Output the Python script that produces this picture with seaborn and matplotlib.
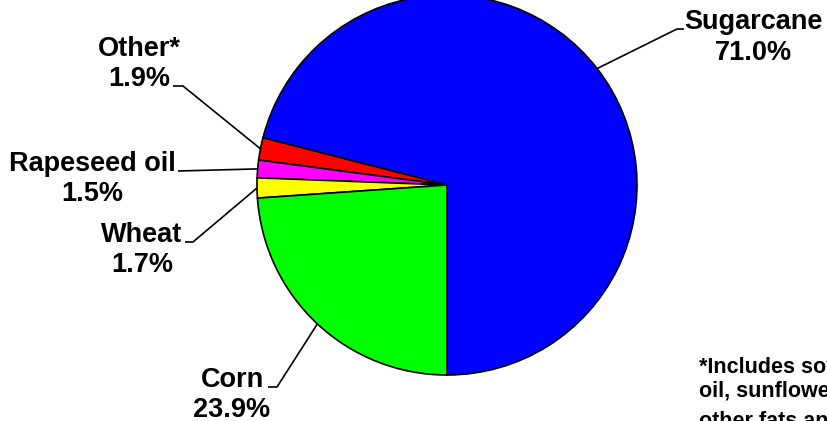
import numpy as np
import matplotlib
matplotlib.use("Agg")
import matplotlib.pyplot as plt
import seaborn as sns

# ---- data ----
categories = ["Sugarcane", "Other*", "Rapeseed oil", "Wheat", "Corn"]
shares = [71.0, 1.9, 1.5, 1.7, 23.9]
colors = ["#0000FF", "#FF0000", "#FF00FF", "#FFFF00", "#00FF00"]
footnote_lines = ["*Includes soybean", "oil, sunflower oil,", "other fats and oils"]

sns.set_theme(style="white")
plt.rcParams["font.family"] = ["Liberation Sans", "DejaVu Sans"]

W, H = 827, 421
fig = plt.figure(figsize=(W / 100, H / 100), dpi=100)
ax = fig.add_axes([0, 0, 1, 1])


def py(y):
    return H - y


cx, cy, R = 447, 185, 190
wedges, _ = ax.pie(
    shares, colors=colors, startangle=270, counterclock=True,
    radius=R, center=(cx, py(cy)),
    wedgeprops=dict(edgecolor="black", linewidth=1.2),
)
ax.set_xlim(0, W)
ax.set_ylim(0, H)
ax.set_aspect("auto")
ax.axis("off")

# label layout: (name baseline, pct baseline, text center x, elbow, line end)
layout = {
    "Sugarcane": dict(x=753, yn=29, yp=60, elbow=(677, 29), end=(684, 29)),
    "Other*": dict(x=139, yn=56, yp=86, elbow=(183, 86), end=(173, 86)),
    "Rapeseed oil": dict(x=92, yn=171, yp=201, elbow=None, end=(178, 171)),
    "Wheat": dict(x=142, yn=242, yp=272, elbow=(193, 242), end=(185, 242)),
    "Corn": dict(x=232, yn=387, yp=417, elbow=(277, 387), end=(268, 387)),
}

fs = 19.5
for w, name, val in zip(wedges, categories, shares):
    L = layout[name]
    mid = np.deg2rad((w.theta1 + w.theta2) / 2)
    ax_x = cx + R * np.cos(mid)
    ax_y = py(cy) + R * np.sin(mid)
    xs = [ax_x]
    ys = [ax_y]
    if L["elbow"] is not None:
        xs.append(L["elbow"][0]); ys.append(py(L["elbow"][1]))
    xs.append(L["end"][0]); ys.append(py(L["end"][1]))
    ax.plot(xs, ys, color="black", lw=1.2, solid_capstyle="butt")
    ax.text(L["x"], py(L["yn"]), name, ha="center", va="baseline",
            fontsize=fs, fontweight="bold", color="black")
    ax.text(L["x"], py(L["yp"]), f"{val:.1f}%", ha="center", va="baseline",
            fontsize=fs, fontweight="bold", color="black")

for txt, yb in zip(footnote_lines, [373, 396, 427]):
    ax.text(699, py(yb), txt, ha="left", va="baseline", fontsize=15.5,
            fontweight="bold", color="black", clip_on=False)

fig.savefig("out.png", dpi=100, facecolor="white")
